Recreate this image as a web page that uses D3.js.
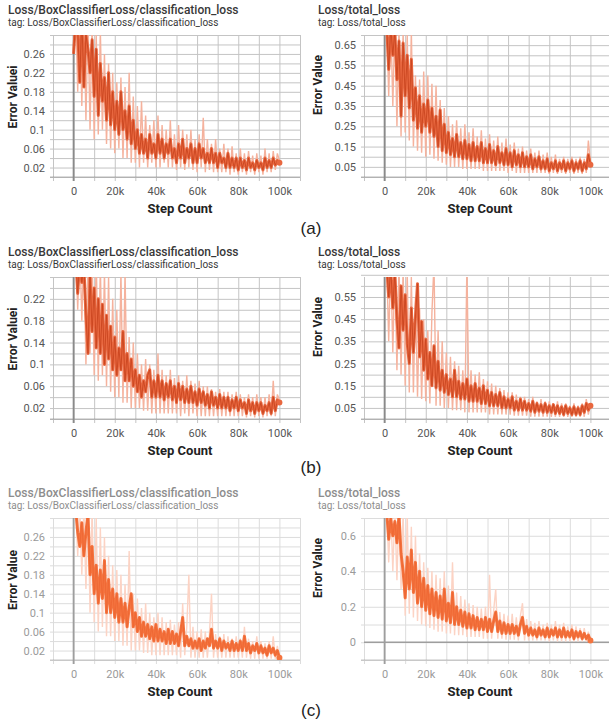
<!DOCTYPE html>
<html>
<head>
<meta charset="utf-8">
<script src="https://cdn.jsdelivr.net/npm/d3@7"></script>
<style>
  body { margin: 0; background: #fff; }
  svg { display: block; font-family: Roboto, "Noto Sans", sans-serif; }
</style>
</head>
<body>
<script>
// values, one point per 1k steps (0 .. 100k)
const aClsSmooth = [0.26,0.33,0.31,0.20,0.34,0.19,0.30,0.27,0.22,0.29,0.17,0.27,0.13,0.24,0.16,0.21,0.12,0.22,0.11,0.18,
  0.10,0.16,0.09,0.18,0.10,0.14,0.08,0.15,0.07,0.12,0.06,0.10,0.05,0.09,0.05,0.08,0.04,0.09,0.05,0.07,
  0.04,0.09,0.05,0.08,0.04,0.07,0.05,0.08,0.04,0.06,0.03,0.07,0.04,0.08,0.03,0.06,0.04,0.07,0.03,0.06,
  0.03,0.07,0.04,0.06,0.03,0.05,0.03,0.06,0.03,0.05,0.02,0.05,0.03,0.04,0.02,0.05,0.02,0.04,0.02,0.04,
  0.015,0.04,0.02,0.035,0.015,0.04,0.02,0.03,0.015,0.035,0.02,0.03,0.015,0.04,0.02,0.035,0.02,0.04,0.025,0.035,0.03];
const aClsRaw = [0.30,0.36,0.18,0.36,0.15,0.35,0.12,0.34,0.10,0.33,0.08,0.30,0.09,0.31,0.10,0.26,0.07,0.24,0.06,0.22,
  0.05,0.20,0.06,0.21,0.04,0.19,0.04,0.22,0.03,0.17,0.03,0.15,0.02,0.16,0.03,0.13,0.02,0.11,0.03,0.12,
  0.02,0.13,0.02,0.11,0.03,0.10,0.02,0.12,0.02,0.09,0.015,0.11,0.02,0.10,0.015,0.09,0.02,0.10,0.015,0.08,
  0.01,0.09,0.02,0.125,0.01,0.08,0.015,0.07,0.01,0.08,0.01,0.06,0.01,0.07,0.01,0.06,0.005,0.065,0.01,0.05,
  0.005,0.06,0.01,0.05,0.005,0.055,0.01,0.045,0.005,0.05,0.01,0.045,0.005,0.06,0.01,0.05,0.01,0.055,0.015,0.05,0.035];

const aTotSmooth = [0.72,0.75,0.53,0.74,0.60,0.72,0.48,0.67,0.30,0.66,0.40,0.60,0.34,0.58,0.28,0.44,0.24,0.40,0.22,0.36,
  0.25,0.38,0.22,0.34,0.20,0.30,0.15,0.33,0.13,0.26,0.12,0.22,0.11,0.19,0.10,0.21,0.10,0.17,0.09,0.18,
  0.09,0.16,0.08,0.17,0.08,0.15,0.08,0.17,0.07,0.14,0.07,0.16,0.07,0.13,0.06,0.15,0.07,0.12,0.06,0.14,
  0.06,0.12,0.05,0.13,0.06,0.11,0.05,0.12,0.05,0.10,0.05,0.11,0.04,0.09,0.05,0.10,0.04,0.08,0.04,0.09,
  0.03,0.07,0.04,0.08,0.03,0.07,0.04,0.08,0.03,0.07,0.04,0.08,0.03,0.07,0.04,0.08,0.03,0.07,0.04,0.11,0.06];
const aTotRaw = [0.75,0.78,0.40,0.78,0.35,0.76,0.25,0.74,0.20,0.72,0.22,0.70,0.18,0.72,0.15,0.50,0.13,0.48,0.12,0.52,
  0.10,0.50,0.11,0.46,0.09,0.45,0.08,0.38,0.07,0.34,0.06,0.30,0.05,0.26,0.05,0.28,0.05,0.24,0.04,0.26,
  0.04,0.22,0.04,0.24,0.04,0.20,0.04,0.23,0.03,0.19,0.03,0.21,0.03,0.18,0.03,0.20,0.03,0.17,0.03,0.19,
  0.02,0.16,0.03,0.17,0.02,0.14,0.02,0.15,0.02,0.13,0.02,0.14,0.02,0.12,0.02,0.13,0.02,0.11,0.02,0.12,
  0.015,0.10,0.02,0.11,0.015,0.09,0.02,0.10,0.015,0.09,0.02,0.10,0.015,0.09,0.02,0.10,0.015,0.09,0.02,0.18,0.07];

const bClsSmooth = [0.27,0.30,0.23,0.29,0.25,0.28,0.19,0.12,0.26,0.16,0.24,0.13,0.22,0.12,0.21,0.10,0.19,0.11,0.17,0.09,
  0.15,0.08,0.13,0.09,0.16,0.07,0.12,0.07,0.11,0.06,0.09,0.05,0.08,0.04,0.07,0.05,0.08,0.09,0.04,0.07,
  0.04,0.08,0.04,0.07,0.035,0.065,0.04,0.07,0.035,0.06,0.03,0.065,0.035,0.06,0.03,0.055,0.03,0.06,0.03,0.05,
  0.025,0.055,0.03,0.05,0.025,0.045,0.02,0.05,0.025,0.04,0.02,0.045,0.02,0.04,0.02,0.04,0.015,0.035,0.02,0.04,
  0.015,0.035,0.02,0.03,0.01,0.035,0.015,0.03,0.01,0.03,0.015,0.03,0.01,0.025,0.015,0.03,0.01,0.04,0.015,0.035,0.03];
const bClsRaw = [0.30,0.32,0.20,0.32,0.18,0.31,0.10,0.30,0.12,0.30,0.08,0.30,0.07,0.28,0.08,0.27,0.06,0.26,0.05,0.22,
  0.04,0.20,0.04,0.27,0.03,0.27,0.03,0.15,0.02,0.14,0.02,0.12,0.02,0.10,0.015,0.11,0.015,0.10,0.01,0.09,
  0.01,0.12,0.01,0.09,0.01,0.08,0.01,0.09,0.01,0.075,0.01,0.08,0.005,0.07,0.01,0.08,0.005,0.07,0.01,0.065,
  0.005,0.07,0.005,0.06,0.005,0.06,0.005,0.055,0.005,0.05,0.005,0.055,0.005,0.05,0.005,0.05,0.005,0.045,0.005,0.05,
  0.005,0.045,0.005,0.04,0.003,0.045,0.005,0.04,0.003,0.045,0.005,0.04,0.003,0.04,0.005,0.045,0.005,0.07,0.005,0.045,0.035];

const bTotSmooth = [0.66,0.70,0.55,0.68,0.50,0.66,0.45,0.32,0.60,0.40,0.56,0.34,0.25,0.50,0.30,0.46,0.61,0.28,0.44,0.22,
  0.36,0.18,0.30,0.15,0.33,0.14,0.26,0.13,0.22,0.12,0.20,0.11,0.18,0.10,0.22,0.10,0.17,0.09,0.16,0.09,
  0.18,0.08,0.15,0.08,0.16,0.08,0.14,0.07,0.15,0.07,0.13,0.06,0.12,0.06,0.11,0.06,0.12,0.05,0.10,0.05,
  0.09,0.05,0.10,0.04,0.08,0.04,0.09,0.04,0.08,0.04,0.07,0.035,0.08,0.03,0.07,0.035,0.065,0.03,0.07,0.03,
  0.06,0.03,0.065,0.025,0.06,0.025,0.055,0.02,0.06,0.025,0.05,0.02,0.055,0.02,0.05,0.02,0.06,0.03,0.07,0.04,0.06];
const bTotRaw = [0.70,0.72,0.35,0.72,0.30,0.70,0.22,0.70,0.20,0.68,0.15,0.66,0.12,0.64,0.12,0.55,0.10,0.50,0.09,0.45,
  0.08,0.40,0.07,0.48,0.70,0.06,0.40,0.06,0.35,0.05,0.30,0.05,0.28,0.04,0.26,0.04,0.24,0.04,0.22,0.03,
  0.70,0.03,0.22,0.03,0.20,0.03,0.21,0.03,0.18,0.03,0.17,0.02,0.16,0.02,0.15,0.02,0.14,0.02,0.13,0.02,
  0.12,0.02,0.12,0.015,0.11,0.015,0.10,0.015,0.10,0.015,0.09,0.01,0.10,0.01,0.08,0.01,0.09,0.01,0.08,0.01,
  0.08,0.01,0.07,0.01,0.08,0.01,0.07,0.01,0.07,0.01,0.06,0.01,0.07,0.01,0.06,0.01,0.07,0.01,0.09,0.02,0.07];

const cClsSmooth = [0.30,0.32,0.27,0.24,0.29,0.22,0.27,0.31,0.18,0.24,0.14,0.20,0.12,0.19,0.13,0.21,0.10,0.17,0.10,0.15,
  0.09,0.14,0.08,0.13,0.08,0.12,0.07,0.11,0.14,0.07,0.10,0.06,0.09,0.05,0.08,0.05,0.075,0.045,0.07,0.04,
  0.075,0.04,0.065,0.04,0.06,0.035,0.065,0.035,0.06,0.035,0.055,0.03,0.06,0.09,0.03,0.05,0.03,0.045,0.025,0.04,
  0.025,0.045,0.02,0.04,0.025,0.045,0.03,0.065,0.025,0.04,0.025,0.045,0.02,0.04,0.025,0.035,0.02,0.04,0.02,0.035,
  0.02,0.04,0.02,0.05,0.02,0.035,0.015,0.03,0.02,0.035,0.015,0.03,0.015,0.025,0.01,0.03,0.015,0.025,0.01,0.02,0.005];
const cClsRaw = [0.32,0.33,0.22,0.33,0.18,0.32,0.15,0.33,0.10,0.32,0.08,0.30,0.06,0.28,0.07,0.26,0.05,0.22,0.05,0.20,
  0.04,0.19,0.04,0.18,0.03,0.16,0.03,0.23,0.02,0.14,0.02,0.13,0.02,0.11,0.015,0.12,0.015,0.10,0.01,0.09,
  0.01,0.10,0.01,0.09,0.01,0.08,0.01,0.085,0.01,0.075,0.01,0.08,0.005,0.12,0.01,0.07,0.18,0.005,0.07,0.005,
  0.06,0.005,0.065,0.005,0.06,0.005,0.055,0.14,0.005,0.055,0.005,0.05,0.005,0.055,0.005,0.05,0.005,0.045,0.005,0.05,
  0.005,0.045,0.005,0.07,0.005,0.045,0.003,0.04,0.003,0.05,0.003,0.04,0.003,0.035,0.003,0.04,0.003,0.05,0.003,0.03,0.005];

const cTotSmooth = [0.72,0.74,0.58,0.70,0.60,0.68,0.56,0.72,0.50,0.40,0.25,0.48,0.30,0.52,0.28,0.45,0.22,0.40,0.20,0.36,
  0.18,0.32,0.16,0.30,0.15,0.28,0.14,0.26,0.13,0.30,0.12,0.22,0.11,0.28,0.10,0.20,0.10,0.18,0.09,0.17,
  0.08,0.16,0.08,0.15,0.07,0.14,0.07,0.13,0.07,0.14,0.06,0.13,0.06,0.12,0.17,0.06,0.12,0.05,0.11,0.05,
  0.10,0.05,0.10,0.05,0.09,0.04,0.10,0.14,0.05,0.09,0.04,0.08,0.04,0.07,0.03,0.08,0.04,0.07,0.03,0.08,
  0.03,0.07,0.04,0.08,0.03,0.07,0.03,0.08,0.03,0.06,0.03,0.07,0.02,0.06,0.03,0.06,0.02,0.05,0.02,0.04,0.01];
const cTotRaw = [0.75,0.76,0.45,0.76,0.40,0.75,0.35,0.76,0.30,0.74,0.15,0.72,0.16,0.65,0.14,0.60,0.12,0.50,0.10,0.45,
  0.09,0.42,0.08,0.40,0.07,0.38,0.06,0.36,0.06,0.40,0.05,0.32,0.05,0.45,0.04,0.28,0.04,0.26,0.04,0.24,
  0.03,0.22,0.03,0.21,0.03,0.20,0.03,0.19,0.02,0.20,0.02,0.38,0.02,0.18,0.30,0.02,0.17,0.02,0.16,0.015,
  0.15,0.015,0.16,0.015,0.14,0.01,0.15,0.22,0.01,0.13,0.01,0.12,0.01,0.11,0.01,0.12,0.01,0.10,0.01,0.11,
  0.005,0.10,0.01,0.12,0.005,0.10,0.005,0.11,0.005,0.09,0.005,0.10,0.005,0.09,0.005,0.08,0.005,0.08,0.005,0.06,0.01];

// axis ticks
const stepTicks = [0, 20000, 40000, 60000, 80000, 100000];
const clsTicks30 = [0.02, 0.06, 0.1, 0.14, 0.18, 0.22, 0.26];
const clsTicks26 = [0.02, 0.06, 0.1, 0.14, 0.18, 0.22];
const totTicksA = [0.05, 0.15, 0.25, 0.35, 0.45, 0.55, 0.65];
const totTicksB = [0.05, 0.15, 0.25, 0.35, 0.45, 0.55];
const totTicksC = [0, 0.2, 0.4, 0.6];

const clsTitle = "Loss/BoxClassifierLoss/classification_loss";
const totTitle = "Loss/total_loss";
const subLabels = ["(a)", "(b)", "(c)"];

// layout
const width = 609, height = 724;
const plotW = 247, plotH = 142;
const colLeft = [53, 364];
const rowTop = [35, 277, 518];
const stepLabelX = [180, 480];

const themes = {
  old: { title: "#383838", tick: "#555", grid: "#c4c4c4", zero: "#8a8a8a", raw: "#f5b29d", band: "#e8673f", core: "#c9451f" },
  new: { title: "#8d8d8d", tick: "#9a9a9a", grid: "#dcdcdc", zero: "#9e9e9e", raw: "#fcd3c4", band: "#f4743f", core: "#ee6733" }
};

const panels = [
  { row: 0, col: 0, title: clsTitle, yLabel: "Error Valuei", domain: [0, 0.30], gridStep: 0.02, ticks: clsTicks30, smooth: aClsSmooth, raw: aClsRaw, theme: "old" },
  { row: 0, col: 1, title: totTitle, yLabel: "Error Value", domain: [0, 0.70], gridStep: 0.05, ticks: totTicksA, smooth: aTotSmooth, raw: aTotRaw, theme: "old" },
  { row: 1, col: 0, title: clsTitle, yLabel: "Error Valuei", domain: [0, 0.26], gridStep: 0.02, ticks: clsTicks26, smooth: bClsSmooth, raw: bClsRaw, theme: "old" },
  { row: 1, col: 1, title: totTitle, yLabel: "Error Value", domain: [0, 0.64], gridStep: 0.05, ticks: totTicksB, smooth: bTotSmooth, raw: bTotRaw, theme: "old" },
  { row: 2, col: 0, title: clsTitle, yLabel: "Error Value", domain: [0, 0.30], gridStep: 0.02, ticks: clsTicks30, smooth: cClsSmooth, raw: cClsRaw, theme: "new" },
  { row: 2, col: 1, title: totTitle, yLabel: "Error Value", domain: [-0.1, 0.70], gridStep: 0.1, ticks: totTicksC, smooth: cTotSmooth, raw: cTotRaw, theme: "new", zeroLine: true }
];

const svg = d3.select("body").append("svg")
  .attr("width", width)
  .attr("height", height);

svg.append("rect").attr("width", width).attr("height", height).attr("fill", "#fff");

panels.forEach((p, idx) => {
  const th = themes[p.theme];
  const left = colLeft[p.col], top = rowTop[p.row], bottom = top + plotH;

  const x = d3.scaleLinear().domain([-10000, 110000]).range([left, left + plotW]);
  const y = d3.scaleLinear().domain(p.domain).range([bottom, top]);

  const g = svg.append("g");

  // horizontal grid (every half label step), sticking out 3px to the left
  const hGrid = d3.range(Math.round(p.domain[0] / p.gridStep), Math.round(p.domain[1] / p.gridStep) + 1)
    .map(k => +(k * p.gridStep).toFixed(3));
  g.append("g")
    .attr("transform", `translate(${left},0)`)
    .call(d3.axisLeft(y).tickValues(hGrid).tickSize(-plotW).tickSizeOuter(0).tickFormat(""))
    .call(a => a.select(".domain").remove())
    .selectAll("line")
    .attr("x1", -3)
    .attr("stroke", th.grid);

  // vertical grid every 10k, sticking out below
  const vGrid = d3.range(-10000, 110001, 10000);
  g.append("g")
    .attr("transform", `translate(0,${bottom})`)
    .call(d3.axisBottom(x).tickValues(vGrid).tickSize(-plotH).tickSizeOuter(0).tickFormat(""))
    .call(a => a.select(".domain").remove())
    .selectAll("line")
    .attr("y1", 4)
    .attr("stroke", th.grid);

  // bottom axis line
  g.append("line")
    .attr("x1", left - 3).attr("x2", left + plotW)
    .attr("y1", bottom).attr("y2", bottom)
    .attr("stroke", th.zero).attr("stroke-opacity", 0.6);

  if (p.zeroLine) {
    g.append("line")
      .attr("x1", left).attr("x2", left + plotW)
      .attr("y1", y(0)).attr("y2", y(0))
      .attr("stroke", th.zero).attr("stroke-width", 1.5);
  }

  // step 0 line
  g.append("line")
    .attr("x1", x(0)).attr("x2", x(0))
    .attr("y1", top).attr("y2", bottom + 4)
    .attr("stroke", th.zero).attr("stroke-width", 1.8);

  // tick labels
  g.append("g")
    .attr("transform", `translate(${left},0)`)
    .call(d3.axisLeft(y).tickValues(p.ticks).tickSize(0).tickPadding(8).tickFormat(d3.format("~g")))
    .call(a => a.select(".domain").remove())
    .selectAll("text")
    .attr("fill", th.tick)
    .style("font-size", "11px")
    .style("font-family", "Roboto, sans-serif");

  g.append("g")
    .attr("transform", `translate(0,${bottom})`)
    .call(d3.axisBottom(x).tickValues(stepTicks).tickSize(0).tickPadding(10)
      .tickFormat(d => d === 0 ? "0" : d / 1000 + "k"))
    .call(a => a.select(".domain").remove())
    .selectAll("text")
    .attr("fill", th.tick)
    .style("font-size", "11px")
    .style("font-family", "Roboto, sans-serif");

  // data
  const clipId = "clip" + idx;
  svg.append("clipPath").attr("id", clipId)
    .append("rect")
    .attr("x", left).attr("y", top)
    .attr("width", plotW).attr("height", plotH);

  const line = d3.line()
    .x((d, i) => x(i * 1000))
    .y(d => y(d));

  const dataG = g.append("g").attr("clip-path", `url(#${clipId})`);

  dataG.append("path")
    .attr("d", line(p.raw))
    .attr("fill", "none")
    .attr("stroke", th.raw)
    .attr("stroke-width", 1.4);

  dataG.append("path")
    .attr("d", line(p.smooth))
    .attr("fill", "none")
    .attr("stroke", th.band)
    .attr("stroke-width", 3)
    .attr("stroke-linejoin", "round");

  dataG.append("path")
    .attr("d", line(p.smooth))
    .attr("fill", "none")
    .attr("stroke", th.core)
    .attr("stroke-width", 0.9)
    .attr("stroke-linejoin", "round");

  const last = p.smooth.length - 1;
  dataG.append("circle")
    .attr("cx", x(last * 1000))
    .attr("cy", y(p.smooth[last]))
    .attr("r", 3)
    .attr("fill", th.band);

  // titles
  const tx = p.col === 0 ? 8 : 318;
  g.append("text")
    .attr("x", tx).attr("y", top - 21)
    .attr("fill", th.title)
    .style("font-size", "12px")
    .style("font-weight", 500)
    .text(p.title);

  g.append("text")
    .attr("x", tx).attr("y", top - 9)
    .attr("fill", th.title)
    .style("font-size", "10px")
    .text("tag: " + p.title);

  // axis labels
  const ylx = p.col === 0 ? 17 : 322;
  const ylc = p.col === 0 ? top + 62 : top + 50;
  g.append("text")
    .attr("transform", `translate(${ylx},${ylc}) rotate(-90)`)
    .attr("text-anchor", "middle")
    .attr("fill", "#222")
    .style("font-size", "12px")
    .style("font-weight", "bold")
    .text(p.yLabel);

  g.append("text")
    .attr("x", stepLabelX[p.col]).attr("y", bottom + 36)
    .attr("text-anchor", "middle")
    .attr("fill", "#222")
    .style("font-size", "13px")
    .style("font-weight", "bold")
    .text("Step Count");
});

// (a) (b) (c)
svg.selectAll(".sub")
  .data(subLabels)
  .enter()
  .append("text")
  .attr("class", "sub")
  .attr("x", 311)
  .attr("y", (d, i) => [234, 473, 716][i])
  .attr("text-anchor", "middle")
  .attr("fill", "#222")
  .style("font-family", "'Liberation Sans', Arial, sans-serif")
  .style("font-size", "17px")
  .text(d => d);
</script>
</body>
</html>
